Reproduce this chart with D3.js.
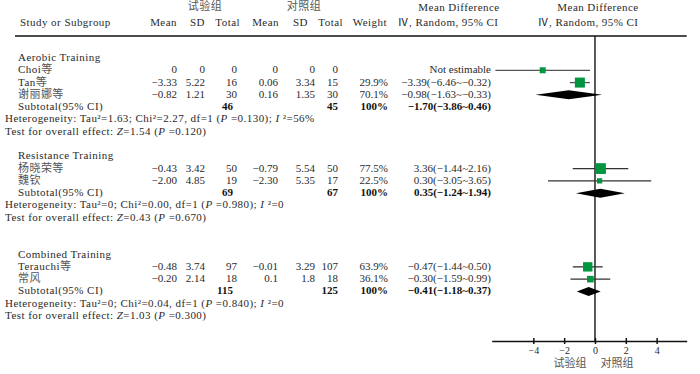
<!DOCTYPE html>
<html>
<head>
<meta charset="utf-8">
<script src="https://cdn.jsdelivr.net/npm/d3@7"></script>
<style>
  body { margin: 0; background: #fff; }
  text { font-family: "Liberation Serif", "Noto Sans CJK SC", serif; font-size: 11px; fill: #2a2a2a; }
  .wide { letter-spacing: 0.45px; }
  .bold { font-weight: bold; fill: #111; }
  .cjk { fill: #555; }
</style>
</head>
<body>
<svg id="chart" width="700" height="374"></svg>
<script>
(function() {

  'use strict';

  var groups = ['Aerobic Training', 'Resistance Training', 'Combined Training'];
  var studyNames = ['Choi等', 'Tan等', '谢丽娜等', '杨晓荣等', '魏钦', 'Terauchi等', '常风'];
  var studyGroup = [0, 0, 0, 1, 1, 2, 2];
  var expMean = ['0', '−3.33', '−0.82', '−0.43', '−2.00', '−0.48', '−0.20'];
  var expSD = ['0', '5.22', '1.21', '3.42', '4.85', '3.74', '2.14'];
  var expTotal = ['0', '16', '30', '50', '19', '97', '18'];
  var ctlMean = ['0', '0.06', '0.16', '−0.79', '−2.30', '−0.01', '0.1'];
  var ctlSD = ['0', '3.34', '1.35', '5.54', '5.35', '3.29', '1.8'];
  var ctlTotal = ['0', '15', '30', '50', '17', '107', '18'];
  var weights = [null, 29.9, 70.1, 77.5, 22.5, 63.9, 36.1];
  var mdLabels = ['Not estimable', '−3.39(−6.46~−0.32)', '−0.98(−1.63~−0.33)', '3.36(−1.44~2.16)',
                  '0.30(−3.05~3.65)', '−0.47(−1.44~0.50)', '−0.30(−1.59~0.99)'];
  // estimates as they are drawn in the plot (the 3.36 label is drawn near 0.36)
  var mdEst = [null, -3.39, -0.98, 0.36, 0.30, -0.47, -0.30];
  var mdLow = [null, -6.46, -1.63, -1.44, -3.05, -1.44, -1.59];
  var mdHigh = [null, -0.32, -0.33, 2.16, 3.65, 0.50, 0.99];

  var subExpTotal = ['46', '69', '115'];
  var subCtlTotal = ['45', '67', '125'];
  var subEst = [-1.70, 0.35, -0.41];
  var subLow = [-3.86, -1.24, -1.18];
  var subHigh = [0.46, 1.94, 0.37];
  var subLabels = ['−1.70(−3.86~0.46)', '0.35(−1.24~1.94)', '−0.41(−1.18~0.37)'];

  var hetTau = ['1.63', '0', '0'];
  var hetChi = ['2.27', '0.00', '0.04'];
  var hetP = ['0.130', '0.980', '0.840'];
  var hetI = ['56%', '0', '0'];
  var testZ = ['1.54', '0.43', '1.03'];
  var testP = ['0.120', '0.670', '0.300'];

  var axisTicks = [-4, -2, 0, 2, 4];

  // layout
  var groupGap = [1, 2, 0];
  var markShift = [-1, 0, 0]; // aerobic marks sit one row up in the original
  var green = '#00953f', lineColor = '#333';

  var svg = d3.select('#chart');

  var x = d3.scaleLinear().domain([-6.7, 5.95]).range([491.7, 686.7]);
  var y = d3.scaleLinear().domain([0, 21]).range([57, 315]);
  var box = d3.scaleLinear().domain([0, 100]).range([3, 13]);

  var cols = { name: 18, note: 5, eMean: 177, eSD: 205, eTot: 237, cMean: 278, cSD: 315, cTot: 338, weight: 388, md: 491 };

  // build row list
  var rows = [];
  var r = 0;
  groups.forEach(function(g, gi) {
    rows.push({ kind: 'group', r: r++, gi: gi });
    studyNames.forEach(function(n, si) {
      if (studyGroup[si] === gi) rows.push({ kind: 'study', r: r++, gi: gi, si: si });
    });
    rows.push({ kind: 'subtotal', r: r++, gi: gi });
    rows.push({ kind: 'het', r: r++, gi: gi });
    rows.push({ kind: 'test', r: r++, gi: gi });
    r += groupGap[gi];
  });

  function txt(xp, yp, s, anchor, cls) {
    return svg.append('text')
      .attr('x', xp).attr('y', yp + 4)
      .attr('text-anchor', anchor || 'start')
      .attr('class', cls || null)
      .text(s);
  }

  // latin and CJK runs get their own tspans, CJK a bit lighter like the scan
  function mixed(xp, yp, s, anchor) {
    var t = txt(xp, yp, '', anchor, 'wide');
    (s.match(/[\u4e00-\u9fff]+|[^\u4e00-\u9fff]+/g) || []).forEach(function(part) {
      t.append('tspan')
        .attr('class', /[\u4e00-\u9fff]/.test(part) ? 'cjk' : null)
        .text(part);
    });
    return t;
  }

  // header
  mixed(205, 6, '试验组', 'middle');
  mixed(304, 6, '对照组', 'middle');
  txt(459, 7, 'Mean Difference', 'middle', 'wide');
  txt(598, 7, 'Mean Difference', 'middle', 'wide');
  txt(20, 22, 'Study or Subgroup', 'start', 'wide');
  txt(177, 22, 'Mean', 'end', 'wide');
  txt(205, 22, 'SD', 'end', 'wide');
  txt(240, 22, 'Total', 'end', 'wide');
  txt(279, 22, 'Mean', 'end', 'wide');
  txt(308, 22, 'SD', 'end', 'wide');
  txt(343, 22, 'Total', 'end', 'wide');
  txt(387, 22, 'Weight', 'end', 'wide');
  txt(448, 22, 'Ⅳ, Random, 95% CI', 'middle', 'wide');
  txt(588, 22, 'Ⅳ, Random, 95% CI', 'middle', 'wide');

  svg.append('line')
    .attr('x1', 15).attr('x2', x.range()[1])
    .attr('y1', 36).attr('y2', 36)
    .attr('stroke', '#111').attr('stroke-width', 1.6);

  // table text
  rows.forEach(function(d) {
    var yp = y(d.r), gi = d.gi, si = d.si;
    if (d.kind === 'group') {
      txt(cols.name, yp, groups[gi], 'start', 'wide');
    } else if (d.kind === 'study') {
      mixed(cols.name, yp, studyNames[si]);
      txt(cols.eMean, yp, expMean[si], 'end');
      txt(cols.eSD, yp, expSD[si], 'end');
      txt(cols.eTot, yp, expTotal[si], 'end');
      txt(cols.cMean, yp, ctlMean[si], 'end');
      txt(cols.cSD, yp, ctlSD[si], 'end');
      txt(cols.cTot, yp, ctlTotal[si], 'end');
      if (weights[si] !== null) txt(cols.weight, yp, weights[si] + '%', 'end');
      txt(cols.md, yp, mdLabels[si], 'end');
    } else if (d.kind === 'subtotal') {
      txt(cols.name, yp, 'Subtotal(95% CI)', 'start', 'wide');
      txt(cols.eTot - 4, yp, subExpTotal[gi], 'end', 'bold');
      txt(cols.cTot, yp, subCtlTotal[gi], 'end', 'bold');
      txt(cols.weight, yp, '100%', 'end', 'bold');
      txt(cols.md, yp, subLabels[gi], 'end', 'bold');
    } else if (d.kind === 'het') {
      var t = txt(cols.note, yp, '', 'start', 'wide');
      t.append('tspan').text('Heterogeneity: Tau²=' + hetTau[gi] + '; Chi²=' + hetChi[gi] + ', df=1 (');
      t.append('tspan').attr('font-style', 'italic').text('P');
      t.append('tspan').text(' =' + hetP[gi] + '); ');
      t.append('tspan').attr('font-style', 'italic').text('I');
      t.append('tspan').text(' ²=' + hetI[gi]);
    } else if (d.kind === 'test') {
      var t2 = txt(cols.note, yp, '', 'start', 'wide');
      t2.append('tspan').text('Test for overall effect: ');
      t2.append('tspan').attr('font-style', 'italic').text('Z');
      t2.append('tspan').text('=' + testZ[gi] + ' (');
      t2.append('tspan').attr('font-style', 'italic').text('P');
      t2.append('tspan').text(' =' + testP[gi] + ')');
    }
  });

  // zero line
  svg.append('line')
    .attr('x1', x(0)).attr('x2', x(0))
    .attr('y1', 36).attr('y2', 341)
    .attr('stroke', '#222').attr('stroke-width', 1.5);

  // study marks
  var studyRows = rows.filter(function(d) { return d.kind === 'study' && mdEst[d.si] !== null; });
  var markY = function(d) { return y(d.r + markShift[d.gi]) + 1; };

  svg.selectAll('.ci').data(studyRows).enter().append('line')
    .attr('class', 'ci')
    .attr('x1', function(d) { return x(mdLow[d.si]); })
    .attr('x2', function(d) { return x(mdHigh[d.si]); })
    .attr('y1', markY).attr('y2', markY)
    .attr('stroke', function(d) { return markShift[d.gi] ? '#555' : lineColor; })
    .attr('stroke-width', 1.3);

  svg.selectAll('.box').data(studyRows).enter().append('rect')
    .attr('class', 'box')
    .attr('x', function(d) { return x(mdEst[d.si]) - box(weights[d.si]) / 2; })
    .attr('y', function(d) { return markY(d) - box(weights[d.si]) / 2; })
    .attr('width', function(d) { return box(weights[d.si]); })
    .attr('height', function(d) { return box(weights[d.si]); })
    .attr('fill', green);

  // subtotal diamonds
  var subRows = rows.filter(function(d) { return d.kind === 'subtotal'; });
  svg.selectAll('.diamond').data(subRows).enter().append('path')
    .attr('class', 'diamond')
    .attr('d', function(d) {
      var yc = markY(d), h = 4.5, gi = d.gi;
      return 'M' + x(subLow[gi]) + ',' + yc + 'L' + x(subEst[gi]) + ',' + (yc - h) +
        'L' + x(subHigh[gi]) + ',' + yc + 'L' + x(subEst[gi]) + ',' + (yc + h) + 'Z';
    })
    .attr('fill', '#000');

  // axis
  var axis = d3.axisBottom(x).tickValues(axisTicks).tickSizeInner(3).tickSizeOuter(0).tickPadding(3);
  var ag = svg.append('g').attr('transform', 'translate(0,341)').call(axis);
  ag.select('.domain').attr('stroke', '#111').attr('stroke-width', 1.5);
  ag.selectAll('.tick line').attr('y1', -3).attr('stroke', '#111').attr('stroke-width', 1.5);
  ag.selectAll('.tick text').attr('font-family', null).attr('font-size', null)
    .style('font-size', '10px').attr('fill', '#222');

  svg.append('text').attr('x', 570).attr('y', 367).attr('text-anchor', 'middle')
    .attr('class', 'cjk').style('font-size', '11px').text('试验组');
  svg.append('text').attr('x', 617).attr('y', 367).attr('text-anchor', 'middle')
    .attr('class', 'cjk').style('font-size', '11px').text('对照组');

})();
</script>
</body>
</html>
